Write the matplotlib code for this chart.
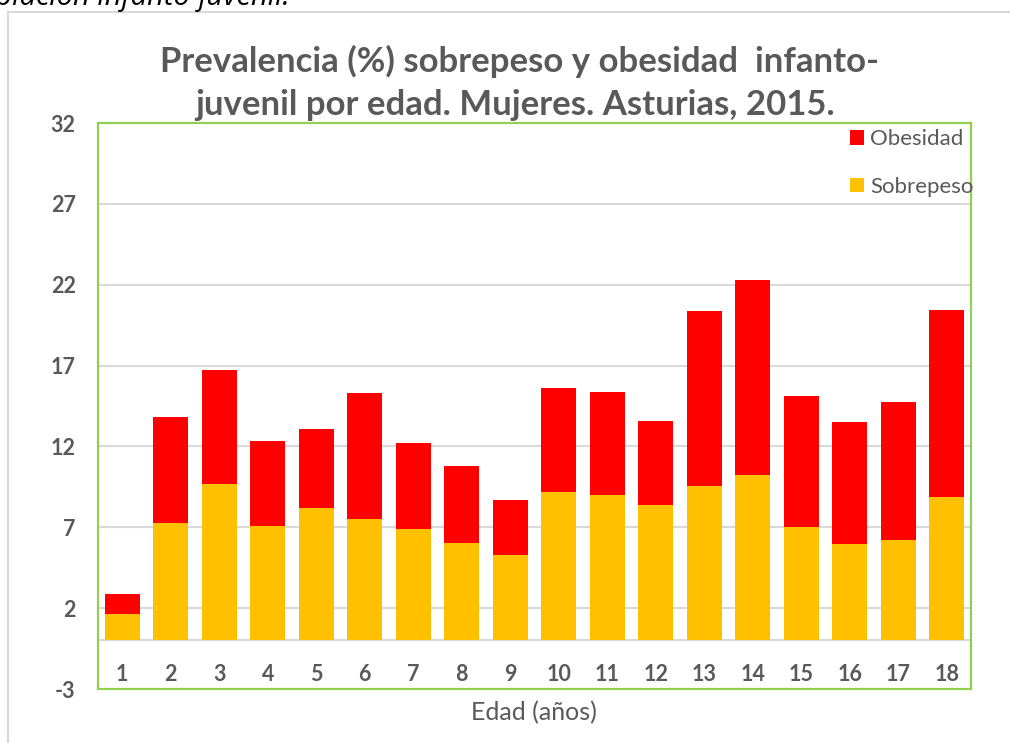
import matplotlib
matplotlib.use("Agg")
import matplotlib.pyplot as plt
from matplotlib.lines import Line2D
from matplotlib.patches import Patch

plt.rcParams['font.family'] = ['Lato', 'DejaVu Sans']

ages = ['1', '2', '3', '4', '5', '6', '7', '8', '9', '10', '11', '12', '13', '14', '15', '16', '17', '18']
sobrepeso = [1.63, 7.27, 9.69, 7.11, 8.18, 7.50, 6.90, 6.01, 5.29, 9.17, 8.97, 8.35, 9.57, 10.25, 7.03, 5.97, 6.20, 8.87]
obesidad = [1.22, 6.57, 7.02, 5.25, 4.92, 7.79, 5.33, 4.79, 3.37, 6.45, 6.40, 5.22, 10.78, 12.02, 8.10, 7.56, 8.57, 11.54]
yticks = [-3, 2, 7, 12, 17, 22, 27, 32]

GRAY = '#595959'
YEL = '#FFC000'
RED = '#FF0000'
GREEN = '#92D050'

W, H = 1010, 743
fig = plt.figure(figsize=(W / 100, H / 100), dpi=100)
fig.patch.set_facecolor('white')

# outer chart frame (light gray)
fig.add_artist(Line2D([8 / W, 8 / W], [0, 1 - 12 / H], color='#D9D9D9', lw=1.5))
fig.add_artist(Line2D([8 / W, 1], [1 - 12 / H, 1 - 12 / H], color='#D9D9D9', lw=1.5))

# cropped caption text at the very top
fig.text(290 / W, 1 - 5 / H, 'población infanto-juvenil.', ha='right', va='baseline',
         fontsize=21, style='italic', color='black', family=['Open Sans', 'DejaVu Sans'])

left, right, top, bottom = 98, 971, 123, 689
ax = fig.add_axes([left / W, 1 - bottom / H, (right - left) / W, (bottom - top) / H])

x = list(range(len(ages)))
ax.bar(x, sobrepeso, width=0.73, color=YEL, label='Sobrepeso', zorder=3)
ax.bar(x, obesidad, width=0.73, bottom=sobrepeso, color=RED, label='Obesidad', zorder=3)

ax.set_xlim(-0.5, len(ages) - 0.5)
ax.set_ylim(-3, 32)
ax.set_yticks(yticks)
ax.set_yticklabels([str(v) for v in yticks])
for v in yticks[1:-1]:
    ax.axhline(v, color='#D9D9D9', lw=1.5, zorder=1)
ax.axhline(0, color='#D9D9D9', lw=1.5, zorder=2)

for s in ax.spines.values():
    s.set_color(GREEN)
    s.set_linewidth(1.6)

ax.tick_params(axis='y', length=0, pad=16, labelsize=15.5, labelcolor=GRAY)
for t in ax.get_yticklabels():
    t.set_fontweight('bold')

ax.set_xticks(x)
ax.set_xticklabels(ages)
ax.tick_params(axis='x', length=0, pad=-18, labelsize=15.5, labelcolor=GRAY)
for t in ax.get_xticklabels():
    t.set_fontweight('bold')

fig.text(534 / W, 1 - 713 / H, 'Edad (años)', ha='center', va='center', fontsize=18, color=GRAY)

fig.text(519 / W, 1 - 72 / H, 'Prevalencia (%) sobrepeso y obesidad  infanto-',
         ha='center', va='baseline', fontsize=25, fontweight='bold', color=GRAY)
fig.text(515 / W, 1 - 115 / H, 'juvenil por edad. Mujeres. Asturias, 2015.',
         ha='center', va='baseline', fontsize=25, fontweight='bold', color=GRAY)

handles = [Patch(facecolor=RED, edgecolor='none'), Patch(facecolor=YEL, edgecolor='none')]
leg = ax.legend(handles, ['Obesidad', 'Sobrepeso'], loc='upper left',
                bbox_to_anchor=(850 / W, 1 - 129 / H), bbox_transform=fig.transFigure,
                frameon=False, fontsize=16, handlelength=0.65, handleheight=0.65,
                handletextpad=0.25, labelspacing=1.25, borderpad=0, borderaxespad=0)
for t in leg.get_texts():
    t.set_color(GRAY)

fig.savefig('out.png', dpi=100, facecolor='white')
